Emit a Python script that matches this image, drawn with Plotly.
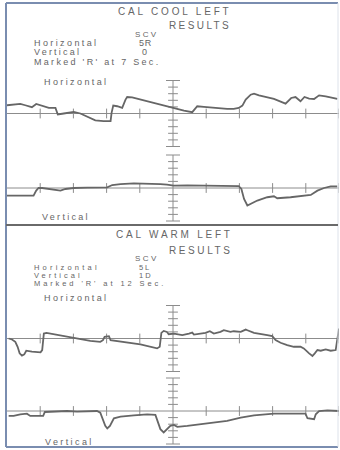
import plotly.graph_objects as go

# ---------------- data (time in grid units 0..10, amplitude in grid units) -------------
cool_h_t = [0.00, 0.20, 0.40, 0.55, 0.75, 0.88, 1.06, 1.26, 1.46, 1.53, 1.71, 1.91, 2.01, 2.21,
            2.51, 2.66, 2.91, 3.12, 3.15, 3.20, 3.32, 3.47, 3.57, 3.62, 3.77, 4.22, 4.62, 5.03,
            5.33, 5.58, 5.73, 5.93, 6.23, 6.63, 6.83, 6.98, 7.09, 7.19, 7.34, 7.44, 7.59, 8.04,
            8.39, 8.56, 8.69, 8.84, 8.96, 9.10, 9.25, 9.40, 9.60, 9.85, 9.95]
cool_h_v = [1.25, 1.35, 1.45, 1.25, 0.95, 1.45, 1.2, 0.85, 0.85, -0.15, 0.0, 0.2, 0.25, 0.0,
            -0.65, -1.05, -1.15, -1.15, 0.1, 1.2, 1.1, 0.85, 2.1, 2.5, 2.45, 1.85, 1.35, 0.75,
            0.45, 0.2, 1.1, 1.0, 0.85, 0.7, 0.7, 0.85, 1.2, 2.1, 2.85, 3.0, 2.75, 2.2,
            1.5, 2.35, 2.5, 1.85, 2.5, 2.25, 2.2, 2.75, 2.6, 2.25, 2.2]

cool_v_t = [0.00, 0.80, 0.88, 0.95, 1.06, 1.26, 1.41, 1.61, 1.76, 2.01, 2.41, 3.02, 3.17, 3.42,
            3.82, 4.22, 4.62, 4.82, 5.02, 5.43, 5.83, 6.33, 6.98, 7.06, 7.14, 7.24, 7.34, 7.54,
            7.84, 8.04, 8.14, 8.54, 9.15, 9.35, 9.55, 9.75, 9.95]
cool_v_v = [-1.15, -1.15, -0.4, 0.0, 0.0, -0.15, -0.25, -0.4, -0.15, 0.0, 0.05, 0.1, 0.45, 0.6,
            0.7, 0.7, 0.6, 0.5, 0.35, 0.4, 0.35, 0.3, 0.3, -0.15, -1.65, -2.65, -2.4, -1.9,
            -1.4, -1.25, -1.55, -1.4, -1.05, -0.4, 0.0, 0.25, 0.25]

warm_h_t = [0.05, 0.15, 0.25, 0.32, 0.38, 0.45, 0.52, 0.58, 0.75, 1.01, 1.06, 1.11, 1.19, 1.41,
            1.81, 2.11, 2.51, 2.81, 2.89, 2.94, 3.07, 3.12, 3.52, 4.02, 4.52, 4.60, 4.65, 4.72,
            4.82, 4.87, 5.03, 5.28, 5.48, 5.58, 5.63, 5.98, 6.11, 6.23, 6.43, 6.53, 6.73, 6.83,
            7.04, 7.19, 7.24, 7.44, 7.84, 7.99, 8.09, 8.24, 8.44, 8.64, 8.84, 8.94, 9.10, 9.20,
            9.27, 9.35, 9.45, 9.60, 9.75, 9.90, 9.93, 9.97, 10.00]
warm_h_v = [0.0, -0.15, -0.5, -1.25, -2.25, -2.6, -2.4, -1.85, -2.0, -2.1, -1.75, 0.75, 0.85, 0.65,
            0.25, 0.0, -0.35, -0.5, -0.25, 0.25, 0.35, -0.25, -0.5, -0.9, -1.5, -1.25, 0.85, 1.15,
            1.0, 0.65, 0.75, 0.5, 0.75, 0.9, 0.6, 0.85, 1.1, 0.75, 1.0, 1.25, 1.0, 1.1,
            1.0, 1.35, 1.25, 0.85, 0.5, 0.35, -0.25, -0.65, -1.0, -1.25, -1.25, -1.5, -2.25, -2.65,
            -2.25, -1.75, -1.85, -1.65, -1.85, -1.75, -0.75, 0.75, 1.5]

warm_v_t = [0.05, 0.20, 0.40, 0.60, 0.70, 1.09, 1.14, 1.41, 1.81, 2.11, 2.41, 2.71, 2.81, 2.89,
            2.96, 3.02, 3.10, 3.22, 3.42, 3.82, 4.22, 4.47, 4.54, 4.62, 4.72, 4.82, 4.92, 5.03,
            5.13, 5.43, 6.03, 6.63, 7.04, 7.44, 8.04, 8.64, 8.99, 9.05, 9.25, 9.30, 9.40, 9.65,
            10.00]
warm_v_v = [-0.75, -0.75, -0.5, -0.4, -0.75, -0.75, -0.15, -0.1, 0.0, -0.1, 0.0, 0.0, -0.25, -1.25,
            -2.25, -2.65, -2.25, -1.1, -0.85, -0.65, -0.5, -0.6, -1.5, -2.75, -3.25, -2.75, -2.25, -2.1,
            -2.4, -2.25, -1.9, -1.5, -1.0, -0.65, -0.4, -0.35, -0.4, -1.1, -1.25, -0.5, 0.0, 0.1,
            0.0]

x_ticks = [1, 2, 3, 4, 6, 7, 8, 9, 10]
y_ticks = [-4, -3, -2, -1, 1, 2, 3, 4]
y_caps = [-5, 5]

titles = ["CAL COOL LEFT", "CAL WARM LEFT"]
scv_h = ["5R", "5L"]
scv_v = ["0", "1D"]
marked = ["Marked 'R' at 7 Sec.", "Marked 'R' at 12 Sec."]

# ---------------- layout helpers ----------------
W, H = 340, 450
PX_PER_UNIT = 6.6
X0, X1 = 7, 339
TRACE_C = "#666666"
AXIS_C = "#8c8c8c"
TEXT_C = "#666666"
FONT = "Liberation Sans"

fig = go.Figure()
layout = dict(width=W, height=H, margin=dict(l=0, r=0, t=0, b=0),
              paper_bgcolor="white", plot_bgcolor="rgba(0,0,0,0)", showlegend=False)

panels = [
    (cool_h_t, cool_h_v, 113.5),
    (cool_v_t, cool_v_v, 188.0),
    (warm_h_t, warm_h_v, 338.5),
    (warm_v_t, warm_v_v, 411.0),
]

for i, (tt, vv, cy) in enumerate(panels):
    k = "" if i == 0 else str(i + 1)
    top = max(cy - 40, 0)
    bot = min(cy + 40, H)
    layout["xaxis" + k] = dict(domain=[X0 / W, X1 / W], range=[0, 10], visible=False,
                               anchor="y" + k, fixedrange=True)
    layout["yaxis" + k] = dict(domain=[1 - bot / H, 1 - top / H],
                               range=[(cy - bot) / PX_PER_UNIT, (cy - top) / PX_PER_UNIT],
                               visible=False, anchor="x" + k, fixedrange=True)
    xa, ya = "x" + k, "y" + k
    # baseline
    fig.add_trace(go.Scatter(x=[0, 10], y=[0, 0], mode="lines", xaxis=xa, yaxis=ya,
                             line=dict(color=AXIS_C, width=1), hoverinfo="skip"))
    # baseline ticks
    fig.add_trace(go.Scatter(x=x_ticks, y=[0] * len(x_ticks), mode="markers", xaxis=xa, yaxis=ya,
                             marker=dict(symbol="line-ns", size=7,
                                         line=dict(color=AXIS_C, width=1)), hoverinfo="skip"))
    # central vertical scale
    fig.add_trace(go.Scatter(x=[5, 5], y=[-5, 5], mode="lines", xaxis=xa, yaxis=ya,
                             line=dict(color=AXIS_C, width=1), hoverinfo="skip"))
    fig.add_trace(go.Scatter(x=[5] * len(y_ticks), y=y_ticks, mode="markers", xaxis=xa, yaxis=ya,
                             marker=dict(symbol="line-ew", size=7,
                                         line=dict(color=AXIS_C, width=1)), hoverinfo="skip"))
    fig.add_trace(go.Scatter(x=[5, 5], y=y_caps, mode="markers", xaxis=xa, yaxis=ya,
                             marker=dict(symbol="line-ew", size=10,
                                         line=dict(color=AXIS_C, width=1)), hoverinfo="skip"))
    # eye-movement trace
    fig.add_trace(go.Scatter(x=tt, y=vv, mode="lines", xaxis=xa, yaxis=ya,
                             line=dict(color=TRACE_C, width=1.8), hoverinfo="skip"))

fig.update_layout(**layout)


def txt(s, x, y, size, ls, anchor="left"):
    fig.add_annotation(text=f'<span style="letter-spacing:{ls}px">{s}</span>',
                       x=x / W, y=1 - y / H, xref="paper", yref="paper",
                       xanchor=anchor, yanchor="middle", showarrow=False,
                       font=dict(family=FONT, size=size, color=TEXT_C))


# panel 1 header
txt(titles[0], 174, 12, 10, 2.8, anchor="center")
txt("RESULTS", 167, 25.5, 10, 2.4)
txt("SCV", 133, 34.3, 8, 2.3)
txt("Horizontal", 32, 43.3, 9, 2.4)
txt(scv_h[0], 137, 43.3, 9, 0.8)
txt("Vertical", 32, 52.3, 9, 2.2)
txt(scv_v[0], 140, 52.3, 9, 0.8)
txt(marked[0], 32, 61.8, 9, 2.3)
# panel 2 header (tighter lines in the original)
txt(titles[1], 175, 234, 10, 2.8, anchor="center")
txt("RESULTS", 167, 250, 10, 2.6)
txt("SCV", 133, 258, 8, 2.4)
txt("Horizontal", 32, 267, 7.5, 3.2)
txt(scv_h[1], 137, 267, 7.5, 1.8)
txt("Vertical", 32, 275, 7.5, 3.0)
txt(scv_v[1], 137, 275, 7.5, 2.0)
txt(marked[1], 32, 283, 7.5, 2.9)

# panel channel labels
txt("Horizontal", 42, 82, 9, 2.4)
txt("Vertical", 40, 217, 9, 2.3)
txt("Horizontal", 42, 298, 9, 2.4)
txt("Vertical", 43, 442, 9, 2.4)

# frame and separator
shapes = [
    dict(type="line", xref="paper", yref="paper", x0=6 / W, x1=6 / W, y0=1 - 3 / H, y1=1 - 447 / H,
         line=dict(color="#7a8db0", width=2)),
    dict(type="line", xref="paper", yref="paper", x0=6 / W, x1=338 / W, y0=1 - 3 / H, y1=1 - 3 / H,
         line=dict(color="#7a8db0", width=2)),
    dict(type="line", xref="paper", yref="paper", x0=6 / W, x1=338 / W, y0=1 - 447 / H, y1=1 - 447 / H,
         line=dict(color="#7a8db0", width=2)),
    dict(type="line", xref="paper", yref="paper", x0=338 / W, x1=338 / W, y0=1 - 3 / H, y1=1 - 447 / H,
         line=dict(color="#dde2ea", width=1)),
    dict(type="line", xref="paper", yref="paper", x0=6 / W, x1=338 / W, y0=1 - 225 / H, y1=1 - 225 / H,
         line=dict(color="#6a6a6a", width=2)),
]
fig.update_layout(shapes=shapes)

fig.write_html("out.html")
